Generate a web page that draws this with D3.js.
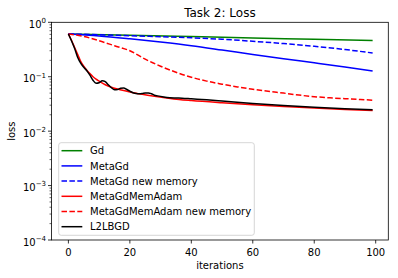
<!DOCTYPE html>
<html><head><meta charset="utf-8">
<script src="https://cdn.jsdelivr.net/npm/d3@7"></script>
<style>body{margin:0;background:#fff}svg{display:block;font-family:"DejaVu Sans",sans-serif}</style>
</head><body><svg id="c" width="398" height="278"></svg>
<script>
// ---- data ----
const seriesNames = ["Gd","MetaGd","MetaGd new memory","MetaGdMemAdam","MetaGdMemAdam new memory","L2LBGD"];
const gdIter = [0,20,40,60,80,99];
const gdLoss = [0.610,0.577,0.547,0.515,0.488,0.462];
const metaGdIter = [0,10,20,30,40,50,60,70,80,90,99];
const metaGdLoss = [0.610,0.563,0.498,0.433,0.371,0.309,0.256,0.214,0.180,0.151,0.128];
const metaGdNewIter = [0,10,20,30,40,50,60,70,80,90,99];
const metaGdNewLoss = [0.610,0.590,0.565,0.544,0.520,0.488,0.448,0.407,0.363,0.316,0.273];
const adamIter = [0,1,2,3,4,5,6,7,8,9,10,12,14,16,18,20,24,28,32,36,40,50,60,70,80,90,99];
const adamLoss = [0.610,0.468,0.348,0.259,0.192,0.156,0.132,0.114,0.100,0.090,0.083,0.0713,0.0641,0.0595,0.0558,0.0526,0.0477,0.0439,0.0408,0.0383,0.0366,0.0333,0.0306,0.0284,0.0265,0.0250,0.0240];
const adamNewIter = [0,5,10,15,20,25,30,35,40,45,50,55,60,65,70,75,80,85,90,95,99];
const adamNewLoss = [0.610,0.549,0.458,0.371,0.300,0.210,0.156,0.121,0.098,0.083,0.073,0.065,0.059,0.054,0.050,0.046,0.043,0.041,0.0395,0.0382,0.0371];
const l2lIter = [0,1,2,3,4,5,6,7,8,9,10,11,12,13,14,15,16,17,18,19,20,21,22,23,24,25,26,27,28,29,31,33,35,37,40,45,50,60,70,80,90,99];
const l2lLoss = [0.610,0.458,0.333,0.228,0.177,0.149,0.129,0.107,0.0863,0.0760,0.0776,0.0845,0.0810,0.0713,0.0628,0.0577,0.0582,0.0615,0.0623,0.0582,0.0542,0.0509,0.0492,0.0488,0.0492,0.0502,0.0504,0.0488,0.0458,0.0445,0.0425,0.0412,0.0407,0.0403,0.0393,0.0377,0.0358,0.0322,0.0296,0.0276,0.0259,0.0246];
const xTicks = [0,20,40,60,80,100];
const yTickExps = [0,-1,-2,-3,-4];
const titleText = "Task 2: Loss";
const xLabel = "iterations";
const yLabel = "loss";

// ---- layout ----
const L = 51.5, R = 388.3, T = 22.3, B = 240;
const svg = d3.select("#c");
const x = d3.scaleLinear().domain([-5.5, 104.1]).range([L, R]);
const y = d3.scaleLog().domain([1e-4, 1]).range([B, T]);

const series = [
  {name: seriesNames[0], xs: gdIter, ys: gdLoss, color: "green", dash: null},
  {name: seriesNames[1], xs: metaGdIter, ys: metaGdLoss, color: "blue", dash: null},
  {name: seriesNames[2], xs: metaGdNewIter, ys: metaGdNewLoss, color: "blue", dash: "5.5,2.4"},
  {name: seriesNames[3], xs: adamIter, ys: adamLoss, color: "red", dash: null},
  {name: seriesNames[4], xs: adamNewIter, ys: adamNewLoss, color: "red", dash: "5.5,2.4"},
  {name: seriesNames[5], xs: l2lIter, ys: l2lLoss, color: "black", dash: null}
];

const clipId = "pc";
svg.append("clipPath").attr("id", clipId).append("rect")
  .attr("x", L).attr("y", T).attr("width", R - L).attr("height", B - T);

const line = d3.line().x(d => x(d[0])).y(d => y(d[1])).curve(d3.curveMonotoneX);
const g = svg.append("g").attr("clip-path", `url(#${clipId})`);
series.forEach(s => {
  g.append("path")
    .datum(s.xs.map((v, i) => [v, s.ys[i]]))
    .attr("d", line)
    .attr("fill", "none")
    .attr("stroke", s.color)
    .attr("stroke-width", 1.5)
    .attr("stroke-dasharray", s.dash)
    .attr("stroke-linejoin", "round");
});

// ---- axes ----
const axisG = svg.append("g");
// minor ticks
for (let e = -4; e < 0; e++) {
  for (let m = 2; m <= 9; m++) {
    const yy = y(m * Math.pow(10, e));
    axisG.append("line").attr("x1", L - 2).attr("x2", L).attr("y1", yy).attr("y2", yy)
      .attr("stroke", "#000").attr("stroke-width", 0.6);
  }
}
yTickExps.forEach(e => {
  const yy = y(Math.pow(10, e));
  axisG.append("line").attr("x1", L - 3.5).attr("x2", L).attr("y1", yy).attr("y2", yy)
    .attr("stroke", "#000").attr("stroke-width", 0.8);
  const t = axisG.append("text").attr("x", 46).attr("y", yy + 5.5)
    .attr("text-anchor", "end").attr("font-size", 10).attr("fill", "#000");
  t.append("tspan").text("10");
  t.append("tspan").attr("font-size", 7).attr("dy", -4.6)
    .text(e < 0 ? "\u2212" + Math.abs(e) : String(e));
});
xTicks.forEach(v => {
  const xx = x(v);
  axisG.append("line").attr("x1", xx).attr("x2", xx).attr("y1", B).attr("y2", B + 3.5)
    .attr("stroke", "#000").attr("stroke-width", 0.8);
  axisG.append("text").attr("x", xx).attr("y", 256).attr("text-anchor", "middle")
    .attr("font-size", 10).attr("fill", "#000").text(v);
});
// spines
axisG.append("rect").attr("x", L).attr("y", T).attr("width", R - L).attr("height", B - T)
  .attr("fill", "none").attr("stroke", "#000").attr("stroke-width", 0.8);

// labels
svg.append("text").attr("x", (L + R) / 2).attr("y", 16.5).attr("text-anchor", "middle")
  .attr("font-size", 12).attr("fill", "#000").text(titleText);
svg.append("text").attr("x", (L + R) / 2).attr("y", 269.3).attr("text-anchor", "middle")
  .attr("font-size", 10).attr("fill", "#000").text(xLabel);
svg.append("text").attr("transform", `translate(15.2,${(T + B) / 2}) rotate(-90)`)
  .attr("text-anchor", "middle").attr("font-size", 10).attr("fill", "#000").text(yLabel);

// legend
const lg = svg.append("g");
lg.append("rect").attr("x", 58.7).attr("y", 142.7).attr("width", 195.6).attr("height", 92.6)
  .attr("rx", 2.5).attr("fill", "#fff").attr("fill-opacity", 0.8)
  .attr("stroke", "#ccc").attr("stroke-width", 0.8);
series.forEach((s, i) => {
  const yy = 150.7 + i * 15.2;
  lg.append("line").attr("x1", 61.5).attr("x2", 82.3).attr("y1", yy).attr("y2", yy)
    .attr("stroke", s.color).attr("stroke-width", 1.5).attr("stroke-dasharray", s.dash);
  lg.append("text").attr("x", 90).attr("y", yy + 3.6).attr("font-size", 10).attr("fill", "#000").text(s.name);
});
</script></body></html>
